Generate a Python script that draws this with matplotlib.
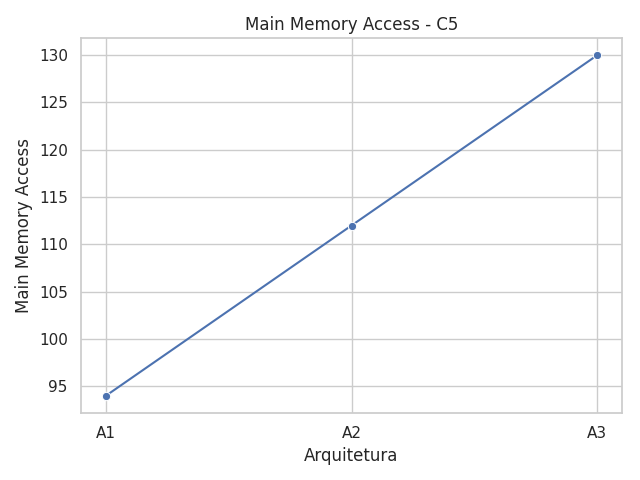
import matplotlib
matplotlib.use("Agg")
import matplotlib.pyplot as plt
import seaborn as sns
import pandas as pd

arquiteturas = ["A1", "A2", "A3"]
acessos = [94, 112, 130]

sns.set_theme(style="whitegrid")

df = pd.DataFrame({"Arquitetura": arquiteturas, "Main Memory Access": acessos})

fig, ax = plt.subplots(figsize=(6.4, 4.8), dpi=100)
sns.lineplot(data=df, x="Arquitetura", y="Main Memory Access", marker="o", ax=ax)
ax.set_title("Main Memory Access - C5")
fig.subplots_adjust(left=0.1266, right=0.9719, top=0.9208, bottom=0.1396)
plt.savefig("out.png")
